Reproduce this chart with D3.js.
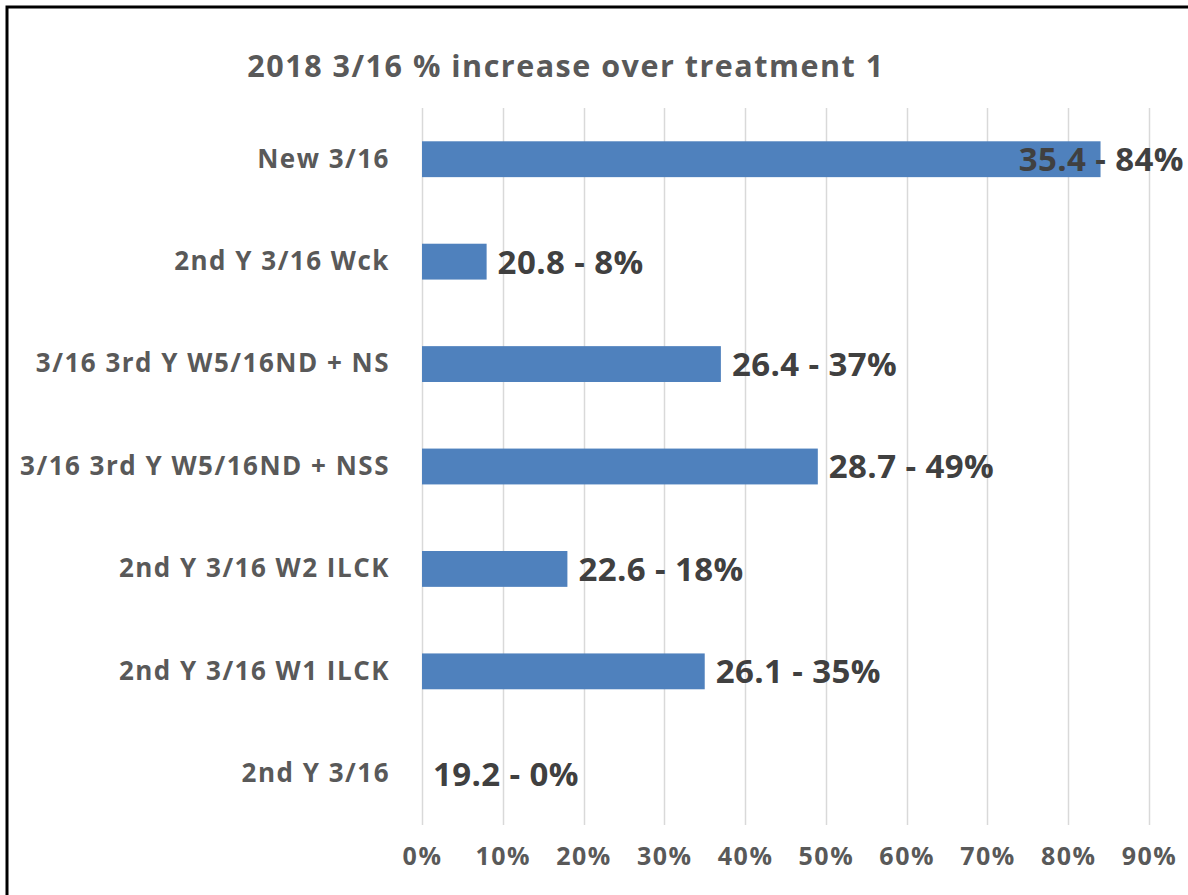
<!DOCTYPE html>
<html>
<head>
<meta charset="utf-8">
<script src="https://cdn.jsdelivr.net/npm/d3@7"></script>
<style>
  html, body { margin: 0; padding: 0; background: #fff; }
  svg { display: block; }
  text { font-family: "Open Sans", "Noto Sans", sans-serif; }
</style>
</head>
<body>
<svg id="chart" width="1188" height="895"></svg>
<script>
const title = "2018 3/16 % increase over treatment 1";
const categories = [
  "New 3/16",
  "2nd Y 3/16 Wck",
  "3/16 3rd Y W5/16ND + NS",
  "3/16 3rd Y W5/16ND + NSS",
  "2nd Y 3/16 W2 ILCK",
  "2nd Y 3/16 W1 ILCK",
  "2nd Y 3/16"
];
const yields = [35.4, 20.8, 26.4, 28.7, 22.6, 26.1, 19.2];
const pctIncrease = [84, 8, 37, 49, 18, 35, 0];
const tickValues = [0, 10, 20, 30, 40, 50, 60, 70, 80, 90];

const svg = d3.select("#chart");
const W = 1188, H = 895;
const plot = { left: 422, right: 1149, top: 108, bottom: 825 };

const x = d3.scaleLinear().domain([0, 90]).range([plot.left, plot.right]);
const y = d3.scaleBand().domain(categories).range([plot.top, plot.bottom])
  .paddingInner(0.65).paddingOuter(0.325);

// frame (left and top edges visible)
svg.append("path")
  .attr("d", `M7,${H} L7,7 L${W},7`)
  .attr("fill", "none").attr("stroke", "#000").attr("stroke-width", 3);

// title
svg.append("text")
  .attr("x", 566).attr("y", 77)
  .attr("text-anchor", "middle")
  .attr("font-size", 30.5).attr("font-weight", 700)
  .attr("letter-spacing", 1.5)
  .attr("fill", "#595959")
  .text(title);

// gridlines
svg.append("g").selectAll("line").data(tickValues).join("line")
  .attr("x1", d => Math.round(x(d)) + 0.5).attr("x2", d => Math.round(x(d)) + 0.5)
  .attr("y1", plot.top).attr("y2", plot.bottom)
  .attr("stroke", "#d9d9d9").attr("stroke-width", 1.5);

// x axis
const xAxis = d3.axisBottom(x).tickValues(tickValues).tickFormat(d => d + "%").tickSize(0).tickPadding(0);
const gx = svg.append("g").attr("transform", `translate(0, ${plot.bottom + 22})`).call(xAxis);
gx.select(".domain").remove();
gx.selectAll("text")
  .attr("font-family", "\"Open Sans\", sans-serif")
  .attr("font-size", 25).attr("font-weight", 700)
  .attr("letter-spacing", 1.5)
  .attr("fill", "#595959").attr("dy", "0.71em");

// y axis labels
const yAxis = d3.axisLeft(y).tickSize(0).tickPadding(32);
const gy = svg.append("g").attr("transform", `translate(${plot.left}, 0)`).call(yAxis);
gy.select(".domain").remove();
gy.selectAll("text")
  .attr("font-family", "\"Open Sans\", sans-serif")
  .attr("font-size", 26).attr("font-weight", 700)
  .attr("letter-spacing", 1.5)
  .attr("fill", "#595959");

// bars
const data = categories.map((c, i) => ({ c, v: pctIncrease[i], yv: yields[i] }));
svg.append("g").selectAll("rect").data(data).join("rect")
  .attr("x", x(0))
  .attr("y", d => y(d.c))
  .attr("width", d => x(d.v) - x(0))
  .attr("height", y.bandwidth())
  .attr("fill", "#4f81bd");

// data labels
const labels = svg.append("g").selectAll("text").data(data).join("text")
  .attr("y", d => y(d.c) + y.bandwidth() / 2)
  .attr("dy", "0.36em")
  .attr("font-size", 33).attr("font-weight", 700)
  .attr("letter-spacing", 0.4)
  .attr("fill", "#404040")
  .text(d => `${d.yv} - ${d.v}%`);
labels.each(function(d) {
  const w = this.getComputedTextLength();
  let lx = x(d.v) + 11;
  if (lx + w > W - 4) lx = W - 4 - w;
  d3.select(this).attr("x", lx);
});
</script>
</body>
</html>
